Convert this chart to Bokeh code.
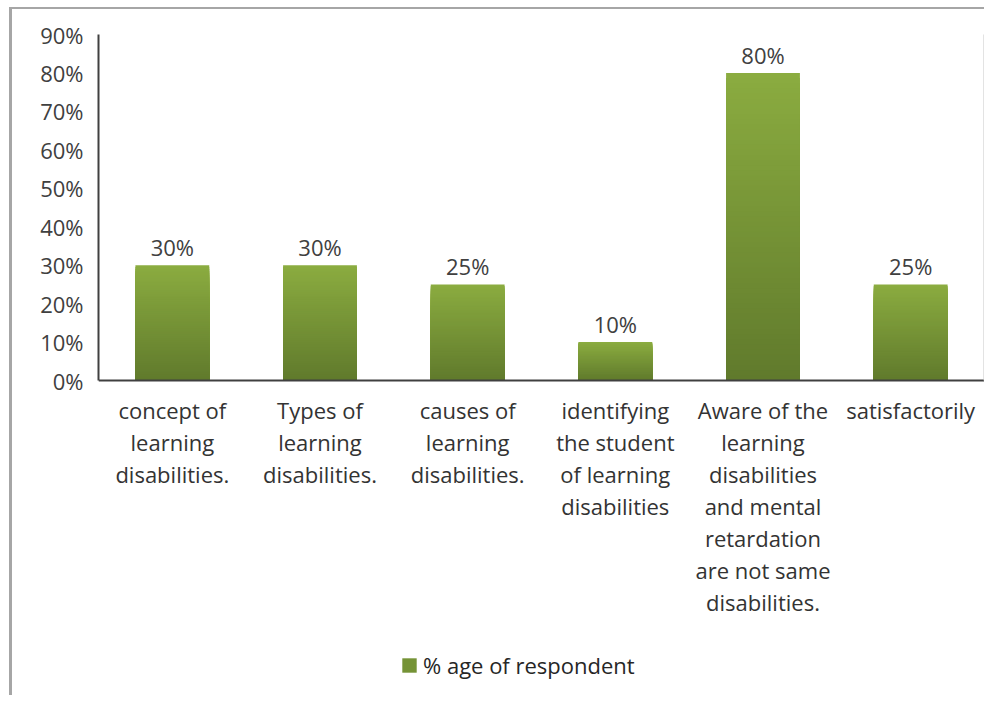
from bokeh.plotting import figure
from bokeh.models import (ColumnDataSource, FactorRange, FixedTicker, NumeralTickFormatter,
                          LinearAxis, Legend, LegendItem)
from bokeh.core.properties import value
from bokeh.embed import file_html
from bokeh.resources import INLINE

# ---- data ----
categories = [
    "concept of\nlearning\ndisabilities.",
    "Types of\nlearning\ndisabilities.",
    "causes of\nlearning\ndisabilities.",
    "identifying\nthe student\nof learning\ndisabilities",
    "Aware of the\nlearning\ndisabilities\nand mental\nretardation\nare not same\ndisabilities.",
    "satisfactorily",
]
values = [0.30, 0.30, 0.25, 0.10, 0.80, 0.25]
value_labels = ["30%", "30%", "25%", "10%", "80%", "25%"]
series_name = "% age of respondent"
y_ticks = [0.0, 0.1, 0.2, 0.3, 0.4, 0.5, 0.6, 0.7, 0.8, 0.9]

FONT = "Open Sans"
TOP_RGB = (0x8B, 0xAC, 0x40)
BOT_RGB = (0x60, 0x7A, 0x2C)
NSEG = 60

def mix(t):
    r = [round(BOT_RGB[i] + (TOP_RGB[i] - BOT_RGB[i]) * t) for i in range(3)]
    return "#%02x%02x%02x" % tuple(r)

# gradient (styling only): overlapping layers of each bar, from full height
# (light top colour) down to short layers (dark bottom colour)
seg_x, seg_top, seg_color = [], [], []
for k in range(NSEG):
    frac = (NSEG - k) / NSEG
    for cat, v in zip(categories, values):
        seg_x.append(cat)
        seg_top.append(v * frac)
        seg_color.append(mix((NSEG - k - 0.5) / NSEG))
seg_src = ColumnDataSource(dict(x=seg_x, top=seg_top, color=seg_color))
lab_src = ColumnDataSource(dict(x=categories, y=values, text=value_labels))

# frame extends below 0 so that category labels and legend sit inside it
Y_TOP = 0.9
PLOT_H = 346          # pixels for 0..90%
FRAME_H = 661
Y_BOTTOM = Y_TOP - Y_TOP * FRAME_H / PLOT_H

p = figure(
    x_range=FactorRange(*categories),
    y_range=(Y_BOTTOM, Y_TOP),
    frame_width=886, frame_height=FRAME_H,
    output_backend="svg", toolbar_location=None,
    min_border_left=86, min_border_top=25, min_border_right=0, min_border_bottom=0,
    background_fill_color="white", border_fill_color="white",
)
p.margin = (7, 0, 0, 9)
p.styles = {"border-top": "2px solid #a6a6a6", "border-left": "3px solid #a6a6a6"}
p.outline_line_color = None
p.xgrid.visible = False
p.ygrid.visible = False

bars = p.vbar(x="x", bottom=0, top="top", width=0.5, source=seg_src,
              fill_color="color", line_color=None)

p.text(x="x", y="y", text="text", source=lab_src, text_align="center",
       text_baseline="bottom", y_offset=-3, text_font=value(FONT),
       text_font_size="22px", text_color="#404040")

# y axis
ya = p.yaxis[0]
ya.ticker = FixedTicker(ticks=y_ticks)
ya.formatter = NumeralTickFormatter(format="0%")
ya.bounds = (0, Y_TOP)
ya.major_tick_line_color = None
ya.minor_tick_line_color = None
ya.major_tick_out = 0
ya.major_label_standoff = 15
ya.axis_line_color = "#404040"
ya.axis_line_width = 2
ya.major_label_text_font = FONT
ya.major_label_text_font_size = "22px"
ya.major_label_text_color = "#404040"

# x axis drawn at y = 0
xa = p.xaxis[0]
xa.fixed_location = 0
xa.major_tick_line_color = None
xa.minor_tick_line_color = None
xa.major_tick_out = 0
xa.major_label_standoff = 14
xa.axis_line_color = "#404040"
xa.axis_line_width = 2
xa.major_label_text_font = FONT
xa.major_label_text_font_size = "22px"
xa.major_label_text_color = "#333333"
xa.major_label_text_line_height = 1.07
xa.major_label_orientation = "horizontal"

# right border line of plot area
ra = LinearAxis(major_tick_line_color=None, minor_tick_line_color=None,
                major_label_text_font_size="0px", axis_line_color="#c8c8c8",
                axis_line_width=2, major_tick_out=0, major_label_standoff=0)
ra.ticker = FixedTicker(ticks=[])
ra.bounds = (0, Y_TOP)
p.add_layout(ra, "right")

legend = Legend(items=[LegendItem(label=series_name, renderers=[bars], index=len(seg_x) // 2)],
                location=(302, 15), orientation="horizontal",
                glyph_width=18, glyph_height=18, label_standoff=5, label_height=18,
                label_text_font=FONT, label_text_font_size="22px",
                label_text_color="#262626", border_line_color=None,
                background_fill_alpha=0, padding=2, margin=0, spacing=0)
p.add_layout(legend)

open("out.html", "w").write(file_html(p, INLINE))
